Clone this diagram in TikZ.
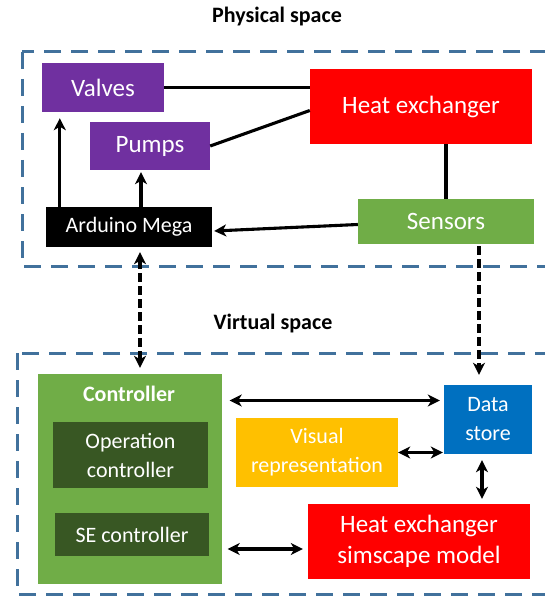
\documentclass[tikz,border=0pt]{standalone}
\usepackage{fontspec}
\setmainfont{Carlito}
\usetikzlibrary{arrows.meta,calc,positioning}
\definecolor{DTPurple}{HTML}{7030A0}
\definecolor{DTRed}{HTML}{FF0000}
\definecolor{DTGreen}{HTML}{70AD47}
\definecolor{DTDarkGreen}{HTML}{385723}
\definecolor{DTBlue}{HTML}{0070C0}
\definecolor{DTGold}{HTML}{FFC000}
\definecolor{DTFrame}{HTML}{41719C}
\tikzset{
  spaceframe/.style={draw=DTFrame,line width=3pt,dash pattern=on 17pt off 10pt},
  spacetitle/.style={font=\bfseries\fontsize{22}{26}\selectfont,text=black},
  blockbig/.style={text=white,align=center,inner sep=2pt,font=\fontsize{25}{31}\selectfont},
  blocksmall/.style={text=white,align=center,inner sep=2pt,font=\fontsize{22}{29}\selectfont},
  link/.style={draw=black,line width=3.1pt},
  arr/.style={link,-{Stealth[length=12pt,width=12pt,inset=3.5pt]}},
  biarr/.style={link,{Stealth[length=12pt,width=12pt,inset=3.5pt]}-{Stealth[length=12pt,width=12pt,inset=3.5pt]}},
  dasharr/.style={draw=black,line width=4.2pt,dash pattern=on 9pt off 4pt}
}

\begin{document}
\begin{tikzpicture}[x=1pt,y=-1pt]
  \useasboundingbox (0,0) rectangle (545,596);

  % the two spaces
  \draw[spaceframe] (22,52) rectangle (570,266);
  \draw[spaceframe] (17,353) rectangle (570,594);
  \node[spacetitle] (phystitle) at (277,17) {Physical space};
  \node[spacetitle] (virttitle) at (273,324) {Virtual space};

  % physical space
  \node[blockbig,fill=DTPurple,minimum width=122pt,minimum height=49pt] (valves) at (103,87.5) {Valves};
  \node[blockbig,fill=DTPurple,minimum width=120pt,minimum height=48pt] (pumps) at (150,146) {Pumps};
  \node[blockbig,fill=DTRed,minimum width=222pt,minimum height=75pt] (hx) at (421,106.5) {Heat exchanger};
  \node[blocksmall,fill=black,minimum width=166pt,minimum height=40pt] (arduino) at (129,227) {Arduino Mega};
  \node[blockbig,fill=DTGreen,minimum width=176pt,minimum height=45pt] (sensors) at (446,221.5) {Sensors};

  \draw[link] (valves.east) -- (valves.east -| hx.west);
  \draw[link] (pumps.east) -- ($(hx.west)+(0,4)$);
  \draw[link] (sensors.north) -- (sensors.north |- hx.south);
  \draw[arr] ($(arduino.north west)+(14,0)$) -- ($(valves.south west)+(18,6)$);
  \draw[arr] ($(arduino.north)+(12,0)$) -- ($(pumps.south)+(-9,2)$);
  \draw[arr] ($(sensors.west)+(0,3)$) -- ($(arduino.east)+(2,4)$);

  % virtual space
  \node[fill=DTGreen,minimum width=184pt,minimum height=210pt] (ctrl) at (129.5,479) {};
  \node[blocksmall,font=\bfseries\fontsize{22}{29}\selectfont] (ctrltitle) at (129,394) {Controller};
  \node[blocksmall,fill=DTDarkGreen,minimum width=155pt,minimum height=66pt] (opctrl) at (130.5,455) {Operation\\controller};
  \node[blocksmall,fill=DTDarkGreen,minimum width=154pt,minimum height=43pt] (sectrl) at (132,534.5) {SE controller};
  \node[blocksmall,fill=DTBlue,minimum width=88pt,minimum height=69pt] (datastore) at (488,419.5) {Data\\store};
  \node[blocksmall,fill=DTGold,minimum width=162pt,minimum height=69pt] (visual) at (317,452.5) {Visual\\representation};
  \node[blockbig,fill=DTRed,minimum width=222pt,minimum height=75pt] (hxmodel) at (419,541.5) {Heat exchanger\\simscape model};

  \coordinate (dsl) at ($(datastore.west)+(0,-19)$);
  \draw[biarr,shorten <=8pt,shorten >=4pt] (dsl -| ctrl.east) -- (dsl);
  \draw[biarr,shorten >=1pt] (visual.east) -- (visual.east -| datastore.west);
  \coordinate (dsb) at ($(datastore.south)+(-6,0)$);
  \draw[biarr,shorten <=6pt,shorten >=5pt] (dsb) -- (dsb |- hxmodel.north);
  \coordinate (hmw) at ($(hxmodel.west)+(0,7.5)$);
  \draw[biarr,shorten <=6pt,shorten >=5pt] (hmw -| ctrl.east) -- (hmw);

  % links between the spaces
  \coordinate (ardlink) at ($(arduino.south)+(11,0)$);
  \draw[dasharr,{Stealth[length=12pt,width=12pt,inset=3.5pt]}-{Stealth[length=12pt,width=12pt,inset=3.5pt]},shorten <=5pt,shorten >=6pt]
    (ardlink) -- (ardlink |- ctrl.north);
  \coordinate (senlink) at ($(sensors.south)+(33,0)$);
  \draw[dasharr,-{Stealth[length=12pt,width=12pt,inset=3.5pt]},shorten <=2pt,shorten >=10pt]
    (senlink) -- (senlink |- datastore.north);
\end{tikzpicture}
\end{document}
